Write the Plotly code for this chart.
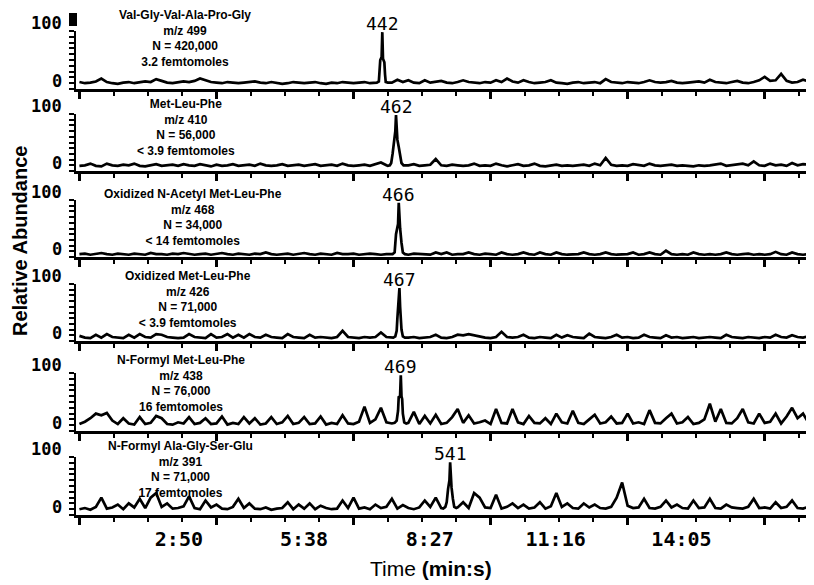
import plotly.graph_objects as go

# ---------------- data ----------------
SCANS = list(range(0, 1065, 8))  # scan grid of the baseline traces (134 points)

COMPOUNDS = ["Val-Gly-Val-Ala-Pro-Gly", "Met-Leu-Phe", "Oxidized N-Acetyl Met-Leu-Phe",
             "Oxidized Met-Leu-Phe", "N-Formyl Met-Leu-Phe", "N-Formyl Ala-Gly-Ser-Glu"]
MZ = ["499", "410", "468", "426", "438", "391"]
N_COUNTS = ["420,000", "56,000", "34,000", "71,000", "76,000", "71,000"]
AMOUNTS = ["3.2 femtomoles", "< 3.9 femtomoles", "< 14 femtomoles",
           "< 3.9 femtomoles", "16 femtomoles", "17 femtomoles"]
PEAK_SCANS = [442, 462, 466, 467, 469, 541]

NOISE_1 = [12, 10, 11, 13, 18, 12, 10, 9, 11, 12,
           10, 11, 13, 12, 17, 14, 11, 10, 12, 13,
           12, 14, 18, 15, 12, 11, 10, 12, 11, 10,
           11, 12, 13, 11, 10, 12, 11, 9, 10, 12,
           11, 10, 11, 12, 10, 9, 11, 10, 12, 11,
           10, 11, 12, 10, 11, 10, 9, 11, 16, 12,
           15, 11, 10, 15, 11, 12, 14, 11, 10, 12,
           15, 12, 11, 10, 12, 11, 15, 12, 18, 13,
           11, 15, 12, 10, 11, 12, 15, 11, 10, 9,
           11, 12, 10, 11, 12, 10, 17, 12, 11, 10,
           12, 11, 10, 12, 15, 12, 11, 12, 14, 11,
           10, 11, 12, 13, 11, 16, 12, 11, 10, 12,
           14, 11, 10, 12, 15, 21, 14, 15, 26, 14,
           11, 12, 16, 13]
NOISE_2 = [9, 10, 13, 9, 8, 13, 10, 9, 11, 10,
           13, 9, 8, 10, 12, 9, 10, 11, 9, 12,
           10, 9, 12, 10, 8, 11, 9, 10, 12, 9,
           10, 11, 9, 13, 10, 9, 10, 12, 9, 10,
           11, 9, 10, 12, 9, 10, 11, 9, 13, 10,
           9, 10, 11, 9, 12, 15, 10, 9, 9, 9,
           10, 12, 9, 10, 11, 21, 10, 9, 11, 10,
           9, 10, 13, 9, 10, 9, 13, 10, 8, 10,
           12, 9, 10, 13, 9, 8, 10, 11, 9, 10,
           9, 10, 11, 9, 13, 10, 23, 11, 9, 10,
           9, 12, 10, 9, 13, 10, 9, 10, 11, 9,
           10, 9, 8, 10, 9, 10, 11, 13, 9, 10,
           11, 13, 10, 17, 10, 9, 13, 10, 11, 9,
           14, 10, 12, 11]
NOISE_3 = [5, 6, 4, 5, 7, 5, 4, 6, 5, 4,
           6, 5, 4, 7, 5, 5, 4, 6, 5, 7,
           5, 4, 5, 6, 4, 5, 7, 5, 4, 6,
           5, 4, 6, 5, 8, 5, 4, 5, 6, 4,
           5, 7, 5, 4, 6, 5, 4, 7, 5, 5,
           6, 4, 5, 6, 5, 4, 5, 5, 5, 5,
           4, 6, 5, 5, 4, 8, 5, 8, 4, 5,
           5, 8, 5, 4, 6, 5, 4, 8, 5, 4,
           5, 8, 5, 4, 8, 5, 4, 8, 5, 4,
           5, 5, 8, 5, 4, 5, 8, 5, 4, 5,
           5, 8, 4, 5, 8, 5, 4, 11, 5, 4,
           5, 4, 8, 5, 4, 5, 4, 5, 8, 5,
           4, 5, 6, 4, 5, 4, 5, 9, 5, 4,
           8, 5, 4, 5]
NOISE_4 = [9, 6, 5, 11, 6, 12, 7, 6, 5, 11,
           6, 12, 7, 6, 12, 11, 7, 6, 5, 6,
           12, 7, 6, 5, 12, 6, 7, 12, 6, 11,
           6, 12, 7, 6, 11, 7, 6, 5, 12, 7,
           6, 5, 11, 6, 7, 6, 5, 7, 18, 7,
           6, 5, 7, 6, 7, 15, 7, 6, 6, 6,
           6, 7, 5, 6, 7, 11, 6, 5, 7, 11,
           10, 12, 10, 7, 6, 5, 7, 16, 7, 6,
           7, 11, 6, 5, 7, 6, 5, 11, 6, 10,
           7, 6, 5, 13, 7, 6, 5, 7, 11, 6,
           7, 5, 6, 11, 7, 6, 5, 10, 6, 7,
           5, 6, 7, 5, 6, 7, 6, 5, 11, 7,
           6, 5, 7, 6, 5, 7, 6, 11, 7, 6,
           10, 7, 6, 8]
NOISE_5 = [12, 16, 22, 30, 27, 31, 18, 12, 22, 13,
           11, 24, 12, 14, 26, 22, 12, 11, 15, 13,
           24, 12, 14, 22, 12, 13, 25, 11, 14, 12,
           24, 13, 22, 11, 13, 24, 12, 15, 26, 12,
           14, 24, 12, 13, 25, 11, 14, 12, 27, 13,
           12, 16, 42, 14, 20, 40, 15, 13, 13, 13,
           14, 33, 12, 26, 13, 28, 12, 14, 24, 38,
           14, 27, 13, 15, 18, 12, 38, 14, 13, 38,
           15, 12, 26, 14, 13, 22, 12, 30, 15, 13,
           35, 14, 12, 20, 28, 13, 15, 25, 13, 14,
           30, 13, 15, 12, 36, 14, 13, 22, 30, 13,
           15, 24, 12, 14, 20, 47, 16, 38, 14, 13,
           22, 38, 15, 13, 30, 14, 16, 30, 13, 25,
           40, 22, 30, 14]
NOISE_6 = [10, 12, 9, 14, 30, 11, 13, 18, 10, 20,
           13, 28, 12, 30, 38, 14, 20, 11, 12, 15,
           32, 12, 10, 25, 13, 18, 11, 10, 14, 28,
           12, 20, 11, 10, 13, 9, 11, 12, 22, 10,
           18, 11, 20, 10, 16, 12, 10, 11, 25, 12,
           30, 11, 13, 10, 18, 12, 14, 28, 11, 17,
           12, 10, 13, 25, 14, 30, 12, 12, 12, 13,
           22, 12, 38, 30, 13, 12, 35, 11, 14, 20,
           12, 18, 11, 13, 22, 11, 15, 38, 14, 20,
           12, 11, 20, 13, 18, 12, 11, 14, 30, 56,
           16, 12, 13, 28, 12, 11, 14, 25, 13, 18,
           12, 11, 25, 12, 13, 28, 12, 11, 18, 13,
           12, 11, 14, 28, 12, 13, 11, 22, 12, 14,
           25, 12, 11, 14]

PEAK_1_SCANS = [434, 437, 438, 439, 441, 442, 443, 445, 446, 447, 450]
PEAK_1_VALUES = [11, 13, 30, 50, 55, 98, 52, 46, 25, 12, 11]
PEAK_2_SCANS = [450, 453, 455, 457, 459, 460, 461, 462, 463, 464, 466, 468, 470, 473]
PEAK_2_VALUES = [9, 10, 14, 30, 50, 60, 70, 98, 68, 55, 42, 28, 14, 10]
PEAK_3_SCANS = [457, 460, 461, 462, 464, 465, 466, 467, 468, 470, 472, 475]
PEAK_3_VALUES = [5, 8, 22, 40, 52, 58, 95, 60, 50, 25, 8, 5]
PEAK_4_SCANS = [458, 461, 463, 464, 465, 466, 467, 468, 469, 470, 472, 475]
PEAK_4_VALUES = [6, 8, 18, 40, 58, 65, 93, 60, 38, 20, 8, 6]
PEAK_5_SCANS = [460, 463, 465, 466, 467, 468, 469, 470, 471, 472, 474, 477]
PEAK_5_VALUES = [14, 18, 35, 60, 58, 62, 96, 60, 55, 30, 15, 13]
PEAK_6_SCANS = [531, 534, 536, 538, 539, 540, 541, 542, 543, 545, 547, 550]
PEAK_6_VALUES = [11, 14, 22, 45, 58, 60, 91, 62, 48, 28, 14, 12]

TIME_TICK_SECONDS = [170, 338, 507, 676, 845]
TIME_TICK_LABELS = ["2:50", "5:38", "8:27", "11:16", "14:05"]
Y_TICK_VALUES = [0, 100]
Y_TICK_LABELS = ["0", "100"]

NOISES = [NOISE_1, NOISE_2, NOISE_3, NOISE_4, NOISE_5, NOISE_6]
PEAKS = [(PEAK_1_SCANS, PEAK_1_VALUES), (PEAK_2_SCANS, PEAK_2_VALUES),
         (PEAK_3_SCANS, PEAK_3_VALUES), (PEAK_4_SCANS, PEAK_4_VALUES),
         (PEAK_5_SCANS, PEAK_5_VALUES), (PEAK_6_SCANS, PEAK_6_VALUES)]

# ---------------- layout constants (reference pixels) ----------------
PAGE_OFFSET = 8                    # default body margin of the html page
W, H = 814 - PAGE_OFFSET, 585 - PAGE_OFFSET
PLOT_LEFT = 76
PANEL_TOPS = [31, 114, 200, 284, 373, 457]
PANEL_BOTTOMS = [89, 171, 257, 341, 431, 515]
TEXT_MID_Y = [38.5, 127.5, 217.5, 299.5, 383.5, 469.5]
TEXT_X = [185, 186, 193, 188, 181, 180]
SCAN_RANGE = [-5, 1072]
TIME_RANGE = [31.8, 1023.0]
MONO = "DejaVu Sans Mono"
SANS = "Liberation Sans"


def px_x(x):
    return (x - PAGE_OFFSET) / W


def px_y(y):
    return 1 - (y - PAGE_OFFSET) / H


def suffix(n):
    return "" if n == 1 else str(n)


def merge(noise, pk_scans, pk_vals):
    lo, hi = min(pk_scans), max(pk_scans)
    pts = [(s, v) for s, v in zip(SCANS, noise) if s < lo or s > hi]
    pts += list(zip(pk_scans, pk_vals))
    pts.sort()
    return [p[0] for p in pts], [p[1] for p in pts]


fig = go.Figure()
annotations = []
layout_axes = {}

for k in range(6):
    s = suffix(k + 1)
    xs, ys = merge(NOISES[k], *PEAKS[k])
    fig.add_trace(go.Scatter(x=xs, y=ys, mode="lines",
                             line=dict(color="black", width=2.7),
                             xaxis=f"x{s}", yaxis=f"y{s}",
                             hoverinfo="skip", showlegend=False))

    layout_axes[f"xaxis{s}"] = dict(
        domain=[px_x(PLOT_LEFT), 1], range=SCAN_RANGE, anchor=f"y{s}",
        showline=True, linewidth=3, linecolor="black", mirror=False,
        ticks="outside", tick0=0, dtick=50, ticklen=4, tickwidth=2, tickcolor="black",
        showticklabels=False, showgrid=False, zeroline=False)
    layout_axes[f"yaxis{s}"] = dict(
        domain=[px_y(PANEL_BOTTOMS[k]), px_y(PANEL_TOPS[k])], range=[0, 100],
        anchor=f"x{s}", showline=True, linewidth=2, linecolor="black",
        ticks="outside", tick0=0, dtick=10, ticklen=5, tickwidth=1.5, tickcolor="black",
        showticklabels=False, showgrid=False, zeroline=False)

    # longer ticks every 200 scans on an overlaid axis
    n_major = 8 + k
    fig.add_trace(go.Scatter(x=[], y=[], xaxis=f"x{n_major}", yaxis=f"y{s}",
                             showlegend=False, hoverinfo="skip"))
    layout_axes[f"xaxis{n_major}"] = dict(
        domain=[px_x(PLOT_LEFT), 1], range=SCAN_RANGE, anchor=f"y{s}", overlaying=f"x{s}",
        side="bottom", showline=False, ticks="outside", tick0=0, dtick=200, ticklen=9,
        tickwidth=2.5, tickcolor="black", showticklabels=False, showgrid=False, zeroline=False)

    # peak label (scan number)
    pk_scans, pk_vals = PEAKS[k]
    top = max(pk_vals)
    annotations.append(dict(x=PEAK_SCANS[k], y=top, xref=f"x{s}", yref=f"y{s}",
                            text=str(PEAK_SCANS[k]), showarrow=False,
                            xanchor="center", yanchor="bottom", yshift=-4,
                            font=dict(family=MONO, size=18, color="black")))
    # compound text block
    block = "<br>".join([f"<b>{COMPOUNDS[k]}</b>", f"<b>m/z {MZ[k]}</b>",
                         f"<b>N = {N_COUNTS[k]}</b>", f"<b>{AMOUNTS[k]}</b>"])
    annotations.append(dict(x=px_x(TEXT_X[k]), y=px_y(TEXT_MID_Y[k]), xref="paper", yref="paper",
                            text=block, showarrow=False, xanchor="center", yanchor="middle",
                            font=dict(family=SANS, size=12, color="black")))
    # y tick labels
    for v, lab in zip(Y_TICK_VALUES, Y_TICK_LABELS):
        annotations.append(dict(x=0, y=v, xref=f"x{s} domain", yref=f"y{s}",
                                text=f"<b>{lab}</b>", showarrow=False,
                                xanchor="right", yanchor="middle", xshift=-12, yshift=8,
                                font=dict(family=MONO, size=17, color="black")))

# time axis (seconds) overlaying the bottom panel
fig.add_trace(go.Scatter(x=[], y=[], xaxis="x7", yaxis="y6", showlegend=False, hoverinfo="skip"))
layout_axes["xaxis7"] = dict(
    domain=[px_x(PLOT_LEFT), 1], range=TIME_RANGE, overlaying="x6", anchor="free",
    position=px_y(PANEL_BOTTOMS[5]), side="bottom",
    tickvals=TIME_TICK_SECONDS, ticktext=[f"<b>{t}</b>" for t in TIME_TICK_LABELS],
    ticks="", showline=False, showgrid=False, zeroline=False, ticklabelstandoff=10,
    tickfont=dict(family=MONO, size=20, color="black"))

annotations.append(dict(x=px_x(20), y=px_y(241), xref="paper", yref="paper",
                        text="<b>Relative Abundance</b>", textangle=-90, showarrow=False,
                        xanchor="center", yanchor="middle",
                        font=dict(family=SANS, size=20, color="black")))
annotations.append(dict(x=px_x(431), y=px_y(568), xref="paper", yref="paper",
                        text="Time <b>(min:s)</b>", showarrow=False,
                        xanchor="center", yanchor="middle",
                        font=dict(family=SANS, size=21, color="black")))

fig.update_layout(
    width=W, height=H, paper_bgcolor="white", plot_bgcolor="white",
    margin=dict(l=0, r=0, t=0, b=0, autoexpand=False),
    annotations=annotations,
    shapes=[dict(type="rect", xref="paper", yref="paper",
                 x0=px_x(69), x1=px_x(77), y0=px_y(26), y1=px_y(13),
                 fillcolor="black", line=dict(width=0))],
    **layout_axes)

fig.write_html("out.html")
